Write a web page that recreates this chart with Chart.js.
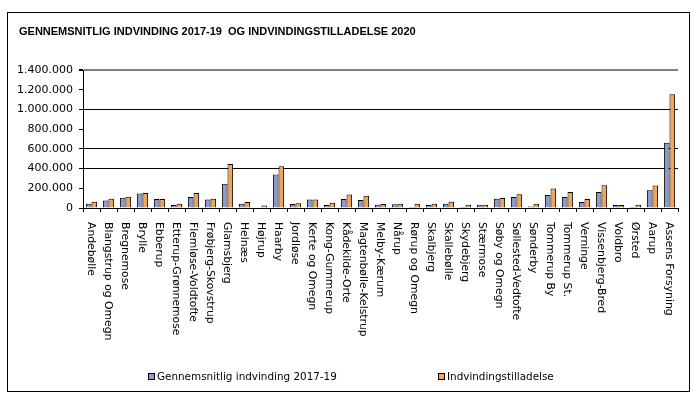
<!DOCTYPE html>
<html>
<head>
<meta charset="utf-8">
<script src="https://cdn.jsdelivr.net/npm/chart.js@4.4.0/dist/chart.umd.min.js"></script>
<style>
html,body{margin:0;padding:0;background:#fff;}
#wrap{position:relative;width:700px;height:395px;}
</style>
</head>
<body>
<div id="wrap"><canvas id="c" width="700" height="395"></canvas></div>
<script>
const chartTitle = 'GENNEMSNITLIG INDVINDING 2017-19  OG INDVINDINGSTILLADELSE 2020';
const categories = ['Andebølle','Blangstrup og Omegn','Bregnemose','Brylle','Ebberup','Etterup-Grønnemose','Flemløse-Voldtofte','Frøbjerg-Skovstrup','Glamsbjerg','Helnæs','Højrup','Haarby','Jordløse','Kerte og Omegn','Kong-Gummerup','Kådekilde-Orte','Magtenbølle-Kelstrup','Melby-Kærum','Nårup','Rørup og Omegn','Skalbjerg','Skallebølle','Skydebjerg','Stærmose','Søby og Omegn','Søllested-Vedtofte','Sønderby','Tommerup By','Tommerup St.','Verninge','Vissenbjerg-Bred','Voldbro','Ørsted','Aarup','Assens Forsyning'];
const seriesNames = ['Gennemsnitlig indvinding 2017-19','Indvindingstilladelse'];
const avgExtraction = [44000,75000,105000,146000,92000,31000,112000,85000,247000,44000,0,339000,41000,85000,31000,92000,81000,34000,37000,10000,31000,44000,10000,34000,95000,112000,14000,132000,112000,61000,163000,31000,10000,180000,661000];
const permit = [64000,95000,115000,153000,92000,44000,153000,95000,447000,61000,25000,423000,47000,85000,54000,136000,125000,41000,44000,44000,44000,64000,34000,34000,102000,139000,44000,197000,163000,92000,231000,31000,34000,227000,1153000];
const yTicks = [0,200000,400000,600000,800000,1000000,1200000,1400000];
const shownGrid = [400000,600000,1000000];

const FONT = '"DejaVu Sans", Verdana, sans-serif';
const fmt = v => String(v).replace(/\B(?=(\d{3})+(?!\d))/g, '.');

const decor = {
  id: 'decor',
  beforeDraw(chart) {
    const ctx = chart.ctx;
    ctx.save();
    ctx.fillStyle = '#fff';
    ctx.fillRect(0, 0, chart.width, chart.height);
    ctx.strokeStyle = '#000';
    ctx.lineWidth = 1;
    ctx.strokeRect(7.5, 12.5, 682, 379);
    ctx.restore();
  },
  afterDraw(chart) {
    const ctx = chart.ctx;
    const xs = chart.scales.x;
    ctx.save();
    // title
    ctx.fillStyle = '#000';
    ctx.font = 'bold 11px "Liberation Sans", Arial, sans-serif';
    ctx.textAlign = 'left';
    ctx.textBaseline = 'middle';
    ctx.fillText(chartTitle, 19, 32);
    // category labels, rotated clockwise
    ctx.font = '10.8px ' + FONT;
    chart.data.labels.forEach((lab, i) => {
      const x = xs.getPixelForTick(i);
      ctx.save();
      ctx.translate(x - 1, 222);
      ctx.rotate(Math.PI / 2);
      ctx.textAlign = 'left';
      ctx.textBaseline = 'middle';
      ctx.fillText(lab, 0, 0);
      ctx.restore();
    });
    // legend
    const legendX = [148, 438];
    ctx.font = '10.4px ' + FONT;
    chart.data.datasets.forEach((ds, i) => {
      const x = legendX[i], y = 377;
      ctx.fillStyle = ds.backgroundColor;
      ctx.fillRect(x + 0.5, y - 3.5, 6, 6);
      ctx.strokeStyle = '#000';
      ctx.lineWidth = 1;
      ctx.strokeRect(x + 0.5, y - 3.5, 6, 6);
      ctx.fillStyle = '#000';
      ctx.textAlign = 'left';
      ctx.textBaseline = 'middle';
      ctx.fillText(ds.label, x + 9, y);
    });
    ctx.restore();
  }
};

new Chart(document.getElementById('c'), {
  type: 'bar',
  data: {
    labels: categories,
    datasets: [
      { label: seriesNames[0], data: avgExtraction, backgroundColor: '#8F9BC6', borderColor: '#000', borderWidth: 1 },
      { label: seriesNames[1], data: permit, backgroundColor: '#F2A458', borderColor: '#000', borderWidth: 1 }
    ]
  },
  options: {
    responsive: false,
    animation: false,
    events: [],
    devicePixelRatio: 1,
    layout: { padding: { left: 0, right: 22, top: 70, bottom: 0 } },
    datasets: { bar: { categoryPercentage: 0.66, barPercentage: 1 } },
    plugins: { legend: { display: false }, title: { display: false }, tooltip: { enabled: false } },
    scales: {
      x: {
        offset: true,
        ticks: { display: false },
        grid: { offset: true, drawOnChartArea: false, drawTicks: true, tickLength: 4, color: '#000' },
        border: { color: '#000', width: 1 },
        afterFit(s) { s.height = 187; }
      },
      y: {
        min: 0, max: 1400000,
        afterBuildTicks(s) { s.ticks = yTicks.map(v => ({ value: v })); },
        ticks: {
          font: { family: FONT, size: 11 }, color: '#000', padding: 6,
          callback: v => fmt(v)
        },
        grid: {
          tickLength: 4,
          tickColor: '#000',
          color: c => c.tick.value === 1400000 ? '#808080' : (shownGrid.includes(c.tick.value) ? '#000' : 'rgba(0,0,0,0)'),
          lineWidth: c => c.tick.value === 1400000 ? 2 : 1
        },
        border: { color: '#000', width: 1 },
        afterFit(s) { s.width = 83; }
      }
    }
  },
  plugins: [decor]
});
</script>
</body>
</html>
